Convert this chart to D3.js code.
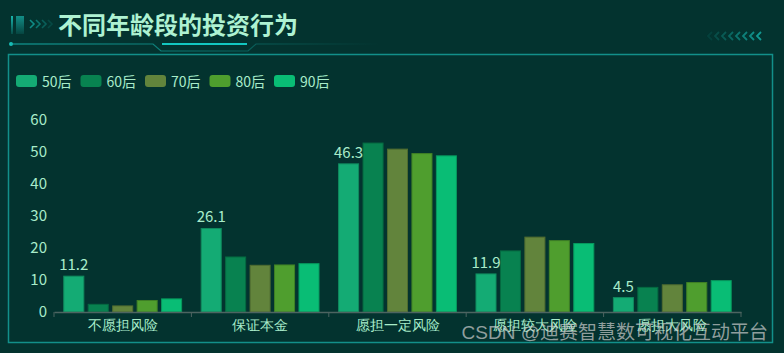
<!DOCTYPE html>
<html>
<head>
<meta charset="utf-8">
<script src="https://cdn.jsdelivr.net/npm/d3@7"></script>
<style>
  html, body { margin: 0; padding: 0; background: #03332f; }
  svg { display: block; font-family: "Microsoft YaHei", "Noto Sans CJK SC", sans-serif; }
</style>
</head>
<body>
<div id="chart"></div>
<script>
// chart data
const categories = ['不愿担风险', '保证本金', '愿担一定风险', '愿担较大风险', '愿担大风险'];
const seriesNames = ['50后', '60后', '70后', '80后', '90后'];
const s50 = [11.2, 26.1, 46.3, 11.9, 4.5];
const s60 = [2.4, 17.2, 52.8, 19.1, 7.7];
const s70 = [1.9, 14.6, 50.9, 23.4, 8.5];
const s80 = [3.6, 14.7, 49.5, 22.3, 9.2];
const s90 = [4.1, 15.1, 48.8, 21.4, 9.8];
const yTicks = [0, 10, 20, 30, 40, 50, 60];
const colors = ['#14ab74', '#088250', '#62843c', '#4f9e2e', '#09bd75'];

const series = [s50, s60, s70, s80, s90];
const W = 784, H = 353;
const textColor = '#a8ecca';

const svg = d3.select('#chart').append('svg')
  .attr('width', W)
  .attr('height', H);

svg.append('rect').attr('width', W).attr('height', H).attr('fill', '#03332f');

// --- header decoration ---
const defs = svg.append('defs');
const fadeR = defs.append('linearGradient').attr('id', 'fadeR');
fadeR.append('stop').attr('offset', '0%').attr('stop-color', '#14b0aa').attr('stop-opacity', 1);
fadeR.append('stop').attr('offset', '100%').attr('stop-color', '#14b0aa').attr('stop-opacity', 0);
const barGrad = defs.append('linearGradient').attr('id', 'barGrad').attr('x1', 0).attr('y1', 0).attr('x2', 0).attr('y2', 1);
barGrad.append('stop').attr('offset', '0%').attr('stop-color', '#19b5ad');
barGrad.append('stop').attr('offset', '100%').attr('stop-color', '#19b5ad').attr('stop-opacity', 0.2);

svg.append('rect').attr('x', 11).attr('y', 16).attr('width', 2).attr('height', 18).attr('fill', 'url(#barGrad)');
svg.append('rect').attr('x', 16).attr('y', 16).attr('width', 8).attr('height', 18).attr('fill', 'url(#barGrad)').attr('opacity', 0.7);

// left chevrons
[0, 1, 2, 3].forEach(i => {
  svg.append('path')
    .attr('d', `M${30 + i * 6},20 l4,4 l-4,4`)
    .attr('fill', 'none')
    .attr('stroke', '#13a39c')
    .attr('stroke-width', 1.6)
    .attr('opacity', 0.8 - i * 0.2);
});

// right chevrons
d3.range(8).forEach(i => {
  svg.append('path')
    .attr('d', `M${761 - i * 7},32 l-4,4 l4,4`)
    .attr('fill', 'none')
    .attr('stroke', '#13a39c')
    .attr('stroke-width', 1.8)
    .attr('opacity', 0.9 - i * 0.11);
});

svg.append('text')
  .attr('x', 58).attr('y', 34)
  .attr('font-size', 24).attr('font-weight', 'bold')
  .attr('fill', '#aef2d2')
  .text('不同年龄段的投资行为');

// underline with a notch
svg.append('circle').attr('cx', 11).attr('cy', 44).attr('r', 2).attr('fill', '#18c0b8');
svg.append('path')
  .attr('d', 'M11,44 L153,44 L161,51 L248,51 L256,44 L380,44')
  .attr('fill', 'none')
  .attr('stroke', 'url(#fadeR)')
  .attr('stroke-width', 1.2);
svg.append('line')
  .attr('x1', 162).attr('x2', 247).attr('y1', 44).attr('y2', 44)
  .attr('stroke', '#13c7c0').attr('stroke-width', 2);

// frame
svg.append('rect')
  .attr('x', 8.5).attr('y', 54.5).attr('width', 764).attr('height', 288)
  .attr('fill', 'none').attr('stroke', '#12908a').attr('stroke-width', 1.5);

// --- legend ---
const legend = svg.append('g');
seriesNames.forEach((name, i) => {
  const g = legend.append('g').attr('transform', `translate(${16 + i * 64.5},75)`);
  g.append('rect').attr('width', 21).attr('height', 12).attr('rx', 3).attr('fill', colors[i]);
  g.append('text').attr('x', 26).attr('y', 11.5).attr('font-size', 14).attr('fill', textColor).text(name);
});

// --- chart ---
const margin = { left: 54, right: 43, top: 120, bottom: 41 };
const x = d3.scaleBand().domain(categories).range([margin.left, W - margin.right]);
const y = d3.scaleLinear().domain([0, 60]).range([H - margin.bottom, margin.top]);
const inner = d3.scaleBand().domain(d3.range(seriesNames.length)).range([0, x.bandwidth()]).paddingInner(0.18).paddingOuter(0.4);

series.forEach((vals, si) => {
  svg.append('g')
    .selectAll('rect')
    .data(vals)
    .join('rect')
    .attr('x', (d, i) => x(categories[i]) + inner(si))
    .attr('y', d => y(d))
    .attr('width', inner.bandwidth())
    .attr('height', d => y(0) - y(d))
    .attr('fill', colors[si])
    .attr('stroke', d3.color(colors[si]).darker(0.6))
    .attr('stroke-width', 1);
});

// labels on the first series
svg.append('g')
  .selectAll('text')
  .data(s50)
  .join('text')
  .attr('x', (d, i) => x(categories[i]) + inner(0) + inner.bandwidth() / 2)
  .attr('y', d => y(d) - 6)
  .attr('text-anchor', 'middle')
  .attr('font-size', 15)
  .attr('fill', textColor)
  .text(d => d);

// y axis labels
svg.append('g')
  .selectAll('text')
  .data(yTicks)
  .join('text')
  .attr('x', 47)
  .attr('y', d => y(d))
  .attr('dy', '0.35em')
  .attr('text-anchor', 'end')
  .attr('font-size', 15)
  .attr('fill', textColor)
  .text(d => d);

// x axis
const xAxis = svg.append('g')
  .attr('transform', `translate(0,${y(0)})`)
  .call(d3.axisBottom(x).tickSize(0).tickPadding(8));
xAxis.select('.domain').attr('stroke', '#4d6461').attr('stroke-width', 1.5);
xAxis.selectAll('text').attr('font-size', 14).attr('fill', textColor).attr('font-family', null);
svg.append('g')
  .selectAll('line')
  .data(d3.range(categories.length + 1))
  .join('line')
  .attr('x1', i => margin.left + i * x.step())
  .attr('x2', i => margin.left + i * x.step())
  .attr('y1', y(0))
  .attr('y2', y(0) + 5)
  .attr('stroke', '#4d6461');

// watermark
svg.append('text')
  .attr('x', 768).attr('y', 339)
  .attr('text-anchor', 'end')
  .attr('font-size', 19)
  .attr('font-family', 'Arial, "Noto Sans CJK SC", sans-serif')
  .attr('fill', '#d0d0d0')
  .attr('fill-opacity', 0.7)
  .text('CSDN @迪赛智慧数可视化互动平台');
</script>
</body>
</html>
